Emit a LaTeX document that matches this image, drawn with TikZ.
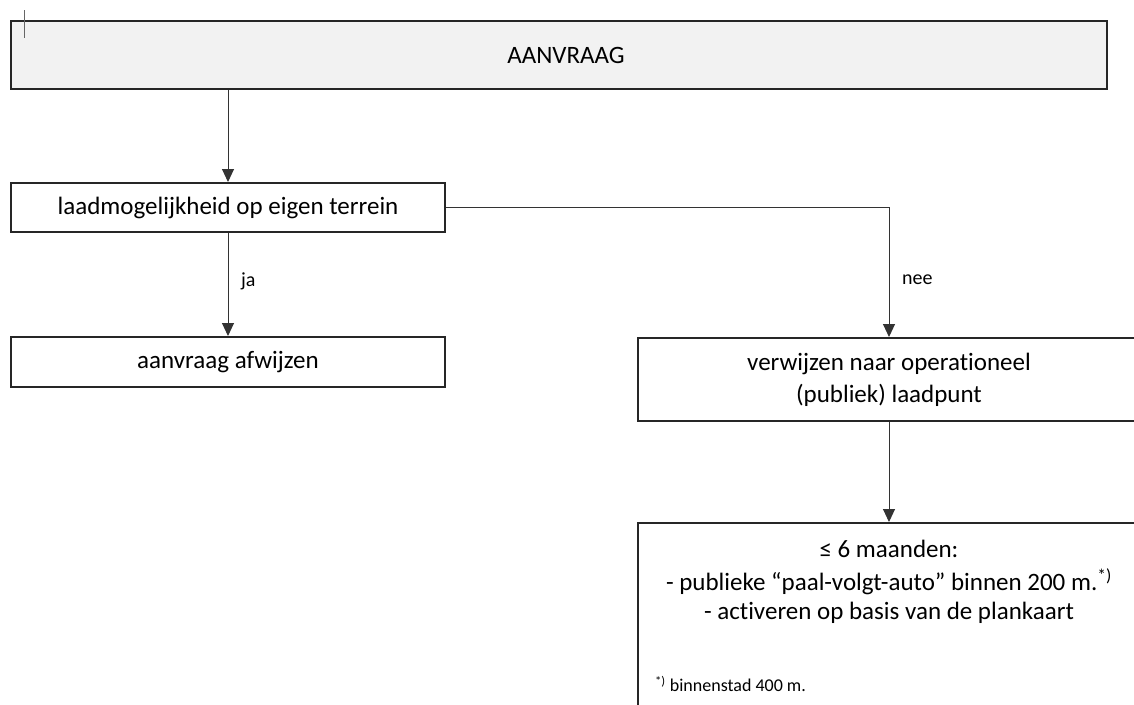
\documentclass[tikz,border=0pt]{standalone}
\usepackage{fontspec}
\setmainfont{Carlito}[Ligatures=CommonOff]
\usetikzlibrary{arrows.meta}
\begin{document}
\begin{tikzpicture}[x=1pt,y=-1pt,
  box/.style={draw=black!85, line width=2pt, rectangle, inner sep=0pt},
  conn/.style={draw=black!80, line width=1pt},
  arr/.style={conn, -{Triangle[length=13pt,width=12pt]}},
  txt/.style={font=\fontsize{25}{30}\selectfont, inner sep=0pt},
  lbl/.style={font=\fontsize{20}{24}\selectfont, inner sep=0pt, anchor=west}]
\useasboundingbox (0,0) rectangle (1134,704);
\clip (0,0) rectangle (1134,704);
\node[box, fill=black!5, minimum width=1096pt, minimum height=68pt] (top) at (559,55) {};
\node[txt] (toptxt) at (566,55) {AANVRAAG};
\node[box, minimum width=434pt, minimum height=49pt] (laad) at (228,207.5) {};
\node[txt] (laadtxt) at (228,208) {laadmogelijkheid op eigen terrein};
\node[box, minimum width=434pt, minimum height=50pt] (afw) at (228,362) {};
\node[txt] (afwtxt) at (228,362) {aanvraag afwijzen};
\node[box, minimum width=502pt, minimum height=83pt] (verw) at (889,379.5) {};
\node[txt] (verwtxt1) at (889,364) {verwijzen naar operationeel};
\node[txt] (verwtxt2) at (889,395) {(publiek) laadpunt};
\node[box, minimum width=502pt, minimum height=200pt] (fin) at (889,623) {};
\node[txt] (fintxt1) at (889,549) {≤ 6 maanden:};
\node[txt] (fintxt2) at (889,582) {- publieke “paal-volgt-auto” binnen 200 m.\textsuperscript{*)}};
\node[txt] (fintxt3) at (889,613) {- activeren op basis van de plankaart};
\node[font=\fontsize{18}{21}\selectfont, inner sep=0pt, anchor=west] (foot) at (655,684) {\textsuperscript{*)} binnenstad 400 m.};
\draw[arr] (laad.north |- top.south) -- (laad.north);
\draw[arr] (laad.south) -- (afw.north);
\node[lbl] (ja) at (241,281) {ja};
\draw[arr] (laad.east) -- (verw.north |- laad.east) -- (verw.north);
\node[lbl] (nee) at (902,280) {nee};
\draw[arr] (verw.south) -- (fin.north);
\coordinate (cur1) at (24,10);
\coordinate (cur2) at (24,38);
\draw[black!60, line width=0.8pt] (cur1) -- (cur2);
\end{tikzpicture}
\end{document}
